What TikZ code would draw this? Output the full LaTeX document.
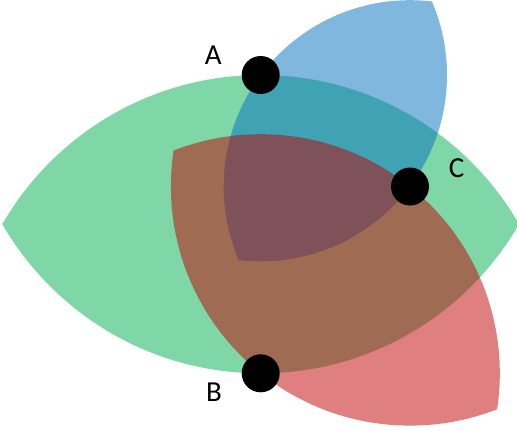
\documentclass[tikz,border=0pt]{standalone}
\usepackage{fontspec}
\setmainfont{Carlito}
\definecolor{pgreen}{HTML}{00B050}
\definecolor{pblue}{HTML}{0070C0}
\definecolor{pred}{HTML}{C00000}
\begin{document}
\begin{tikzpicture}[x=1pt,y=-1pt,
  dot/.style={circle,fill=black,minimum size=38pt,inner sep=0pt},
  lbl/.style={font=\fontsize{29}{30}\selectfont,inner sep=0pt},
  lens/.style={opacity=0.5}]
\useasboundingbox (0,0) rectangle (517,431);
\clip (0,0) rectangle (517,431);
\coordinate (a) at (260.7,75);
\coordinate (b) at (260.7,373.3);
\coordinate (c) at (410,186.5);
% green lens: A and B discs
\begin{scope}
  \clip (a) circle (298.3pt);
  \fill[pgreen,lens] (b) circle (298.3pt);
\end{scope}
% blue lens: A and C discs
\begin{scope}
  \clip (a) circle (186.3pt);
  \fill[pblue,lens] (c) circle (186.3pt);
\end{scope}
% red lens: B and C discs
\begin{scope}
  \clip (b) circle (239.1pt);
  \fill[pred,lens] (c) circle (239.1pt);
\end{scope}
\node[dot] (A) at (a) {};
\node[dot] (B) at (b) {};
\node[dot] (C) at (c) {};
\node[lbl] (la) at (213.3,55) {A};
\node[lbl] (lb) at (214,391.7) {B};
\node[lbl] (lc) at (456.7,168) {C};
\end{tikzpicture}
\end{document}
